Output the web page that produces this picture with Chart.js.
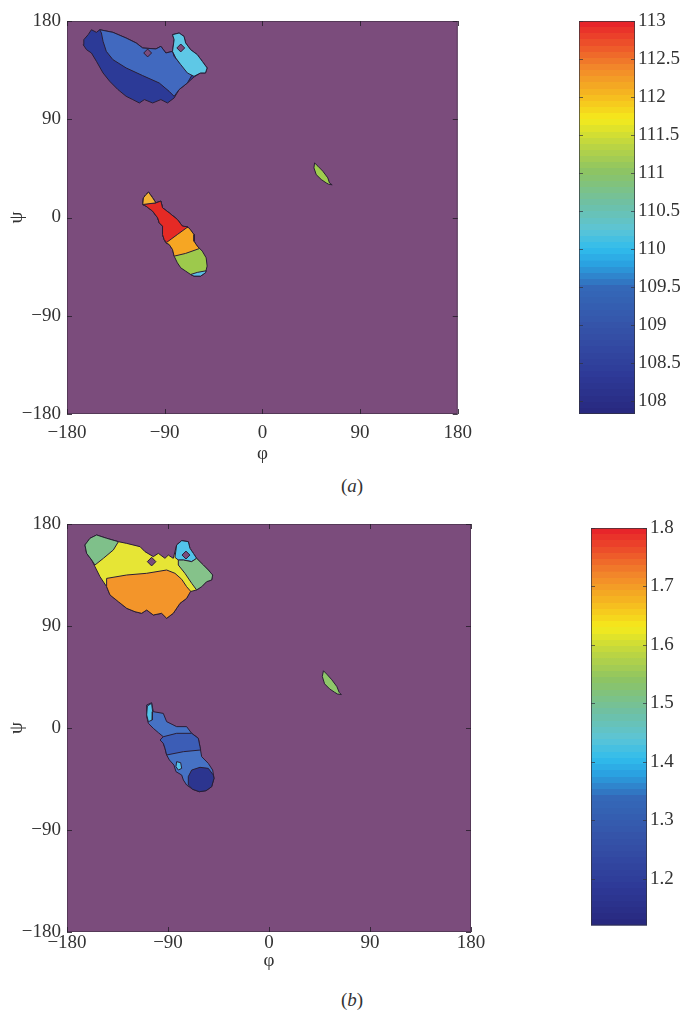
<!DOCTYPE html>
<html><head><meta charset="utf-8">
<script src="https://cdn.jsdelivr.net/npm/chart.js@4/dist/chart.umd.min.js"></script>
<style>
html,body{margin:0;padding:0;background:#fff;width:681px;height:1010px;overflow:hidden;position:relative;}
canvas{position:absolute;}
.cap{position:absolute;font-family:'Liberation Serif','DejaVu Serif',serif;font-size:19px;color:#333;transform:translate(-50%,-50%);white-space:nowrap;}
</style></head><body>
<canvas id="ma" width="480" height="465" style="left:0;top:0"></canvas>
<canvas id="ca" width="121" height="430" style="left:560px;top:0"></canvas>
<canvas id="mb" width="490" height="472" style="left:0;top:500px"></canvas>
<canvas id="cb" width="111" height="440" style="left:570px;top:500px"></canvas>
<div class="cap" style="left:352px;top:486px">(<i>a</i>)</div>
<div class="cap" style="left:352px;top:1000px">(<i>b</i>)</div>
<script>
// ---------- axes / tick data ----------
const phiTicks = [-180, -90, 0, 90, 180];
const psiTicks = [-180, -90, 0, 90, 180];
const cbarTicksA = [108, 108.5, 109, 109.5, 110, 110.5, 111, 111.5, 112, 112.5, 113];
const cbarRangeA = [107.83, 113];
const cbarTicksB = [1.2, 1.3, 1.4, 1.5, 1.6, 1.7, 1.8];
const cbarRangeB = [1.12, 1.8];

// ---------- panel (a) contour regions [phi, psi] ----------
const betaOuterA = [[-164.5,162.9],[-160.5,167.5],[-157.5,172.0],[-152.9,169.6],[-149.8,172.0],[-137.7,169.6],[-125.5,164.4],[-116.3,159.9],[-110.3,155.3],[-98.1,154.4],[-93.5,156.8],[-88.9,150.7],[-82.8,152.2],[-81.3,162.9],[-82.8,167.5],[-76.7,169.0],[-72.2,165.9],[-70.7,159.9],[-66.1,153.7],[-60.0,149.2],[-55.4,143.1],[-50.9,137.0],[-52.4,132.4],[-57.0,132.4],[-63.0,128.7],[-69.1,123.2],[-76.7,117.2],[-81.3,109.5],[-87.4,104.9],[-93.5,108.0],[-101.1,104.9],[-108.7,108.0],[-113.3,104.9],[-119.4,108.0],[-125.5,111.0],[-133.1,117.2],[-140.7,124.8],[-146.8,132.4],[-152.9,143.1],[-157.5,150.7],[-162.0,153.7],[-165.1,158.3]];
const betaBlueA = [[-149.8,172.0],[-137.7,169.6],[-125.5,164.4],[-116.3,159.9],[-110.3,155.3],[-98.1,154.4],[-93.5,156.8],[-88.9,150.7],[-82.8,152.2],[-81.3,147.6],[-73.7,138.5],[-64.6,130.9],[-69.1,123.2],[-76.7,117.2],[-81.3,111.0],[-85.9,115.6],[-95.0,123.2],[-110.3,130.0],[-125.5,137.0],[-137.7,144.6],[-143.8,152.2],[-146.8,161.4],[-148.3,169.0]];
const betaCyanA = [[-82.8,152.2],[-81.3,162.9],[-82.8,167.5],[-76.7,169.0],[-72.2,165.9],[-70.7,159.9],[-66.1,153.7],[-60.0,149.2],[-55.4,143.1],[-50.9,137.0],[-52.4,132.4],[-57.0,132.4],[-63.0,129.3],[-69.1,132.4],[-75.2,140.0],[-79.8,146.1]];
const holeA1 = [[-109.3,150.7],[-105.7,154.3],[-102.1,150.7],[-105.7,147.1]];
const holeA2 = [[-78.8,155.3],[-75.2,158.9],[-71.6,155.3],[-75.2,151.7]];
const alphaOuterA = [[-104.8,23.2],[-101.1,18.0],[-98.1,13.4],[-93.5,15.0],[-92.0,8.9],[-85.9,4.3],[-78.3,-1.8],[-73.7,-7.9],[-67.6,-9.5],[-63.0,-15.6],[-63.0,-21.7],[-60.0,-26.2],[-55.4,-30.8],[-51.8,-36.9],[-50.9,-44.5],[-52.4,-50.6],[-56.9,-53.7],[-63.0,-53.7],[-66.1,-52.2],[-70.7,-49.1],[-75.2,-46.1],[-78.3,-41.5],[-81.3,-35.4],[-82.8,-29.3],[-85.9,-24.7],[-88.9,-23.2],[-90.5,-20.1],[-92.0,-15.6],[-92.0,-7.9],[-95.0,-4.9],[-96.5,-0.3],[-101.1,5.8],[-107.2,10.4],[-110.2,11.9],[-109.6,18.0],[-107.2,21.0]];
const alphaOrangeA = [[-104.8,23.2],[-101.1,18.0],[-98.1,13.4],[-93.5,15.0],[-92.0,8.9],[-85.9,4.3],[-78.3,-1.8],[-73.7,-7.9],[-67.6,-9.5],[-63.0,-15.6],[-63.0,-21.7],[-60.0,-26.2],[-57.9,-28.4],[-70.7,-32.9],[-81.3,-35.4],[-82.8,-29.3],[-85.9,-24.7],[-88.9,-23.2],[-90.5,-20.1],[-92.0,-15.6],[-92.0,-7.9],[-95.0,-4.9],[-96.5,-0.3],[-101.1,5.8],[-107.2,10.4],[-110.2,11.9],[-109.6,18.0],[-107.2,21.0]];
const alphaRedA = [[-109.6,12.2],[-98.1,13.4],[-93.5,15.0],[-92.0,8.9],[-85.9,4.3],[-78.3,-1.8],[-73.7,-7.9],[-68.5,-8.5],[-78.3,-15.6],[-88.3,-22.9],[-90.5,-20.1],[-92.0,-15.6],[-92.0,-7.9],[-95.0,-4.9],[-96.5,-0.3],[-101.1,5.8],[-107.2,10.4],[-110.2,11.9]];
const alphaTipA = [[-110.2,11.9],[-109.6,18.0],[-107.2,21.0],[-104.8,23.2],[-101.1,18.0],[-98.1,13.4]];
const alphaCyanA = [[-66.1,-52.2],[-60.0,-50.3],[-51.8,-48.8],[-52.4,-50.6],[-56.9,-53.7],[-63.0,-53.7]];
const lensA = [[48.1,50.0],[51.2,47.0],[55.7,42.4],[60.3,36.3],[61.8,31.7],[64.3,29.9],[61.0,30.5],[58.8,31.7],[54.2,34.8],[49.6,39.3],[47.5,45.5]];

// ---------- panel (b) contour regions [phi, psi] ----------
const betaOuterB = [[-164.0,161.5],[-159.5,167.4],[-153.6,170.3],[-144.7,167.4],[-134.2,164.4],[-126.8,162.9],[-114.9,160.0],[-110.5,155.6],[-103.1,151.2],[-98.6,154.1],[-92.7,149.7],[-89.7,152.6],[-85.3,149.7],[-82.3,161.5],[-77.8,165.3],[-71.9,164.4],[-70.4,158.5],[-67.4,154.1],[-64.5,149.7],[-58.5,143.8],[-54.1,139.4],[-50.2,135.0],[-51.1,130.6],[-55.6,129.1],[-60.0,124.7],[-64.5,121.8],[-70.4,120.3],[-73.4,114.4],[-79.3,110.0],[-85.3,101.2],[-91.2,96.8],[-95.7,101.2],[-103.1,99.7],[-109.0,104.1],[-113.5,101.2],[-119.4,102.6],[-126.8,105.6],[-134.3,111.5],[-141.7,117.4],[-144.7,124.7],[-150.6,133.5],[-155.1,142.4],[-158.0,148.2],[-162.5,154.1]];
const greenLeftB = [[-164.0,161.5],[-159.5,167.4],[-153.6,170.3],[-144.7,167.4],[-134.2,164.4],[-138.7,157.1],[-147.6,149.7],[-155.1,143.8],[-158.0,148.2],[-162.5,154.1]];
const orangeB = [[-144.7,132.0],[-126.8,135.0],[-109.0,136.5],[-91.2,139.4],[-83.8,136.5],[-77.8,131.2],[-73.4,124.7],[-69.8,120.6],[-73.4,114.4],[-79.3,110.0],[-85.3,101.2],[-91.2,96.8],[-95.7,101.2],[-103.1,99.7],[-109.0,104.1],[-113.5,101.2],[-119.4,102.6],[-126.8,105.6],[-134.3,111.5],[-141.7,117.4],[-144.7,124.7]];
const cyanTopB = [[-83.8,150.6],[-82.3,161.5],[-77.8,165.3],[-71.9,164.4],[-70.4,158.5],[-67.4,154.1],[-64.5,149.7],[-68.9,146.8],[-76.3,148.2],[-80.8,148.2]];
const greenRightB = [[-80.8,148.2],[-76.3,148.2],[-68.9,146.8],[-64.5,149.7],[-58.5,143.8],[-54.1,139.4],[-50.2,135.0],[-51.1,130.6],[-55.6,129.1],[-60.0,124.7],[-64.5,121.8],[-68.9,127.7],[-74.9,136.5],[-80.8,143.8]];
const holeB1 = [[-108.4,146.8],[-104.6,150.6],[-100.8,146.8],[-104.6,143.0]];
const holeB2 = [[-77.5,152.6],[-74.0,156.1],[-70.5,152.6],[-74.0,149.1]];
const alphaOuterB = [[-109.0,20.3],[-104.6,22.3],[-103.1,14.4],[-94.2,12.9],[-91.2,5.6],[-82.3,1.2],[-73.4,1.2],[-68.9,-4.7],[-63.0,-9.1],[-61.5,-16.5],[-60.0,-25.3],[-54.1,-31.2],[-50.2,-37.1],[-49.0,-44.4],[-51.1,-51.8],[-56.1,-55.3],[-62.1,-56.2],[-68.0,-54.1],[-73.4,-50.3],[-76.3,-45.9],[-77.8,-41.5],[-82.9,-38.5],[-84.7,-32.7],[-88.8,-28.2],[-91.2,-23.8],[-92.7,-17.9],[-94.2,-13.5],[-97.1,-10.6],[-94.2,-7.7],[-98.6,-4.1],[-103.1,-0.3],[-107.5,4.1],[-109.0,10.0]];
const bandB = [[-94.2,-7.7],[-82.3,-4.7],[-68.9,-4.7],[-63.0,-9.1],[-61.5,-16.5],[-60.9,-19.4],[-76.3,-20.9],[-91.2,-23.8],[-92.7,-17.9],[-94.2,-13.5],[-97.1,-10.6]];
const navyB = [[-68.9,-37.1],[-61.5,-34.7],[-54.1,-35.6],[-49.6,-41.5],[-49.0,-44.4],[-51.1,-51.8],[-56.1,-55.3],[-62.1,-56.2],[-68.0,-54.1],[-71.9,-50.3],[-71.9,-42.9]];
const cyanPatchB = [[-82.3,-29.7],[-78.7,-30.6],[-77.8,-35.6],[-80.8,-37.1],[-82.9,-34.1]];
const cyanSliverB = [[-108.4,19.4],[-104.6,21.8],[-103.7,14.4],[-104.0,7.1],[-107.5,5.6],[-109.0,11.5]];
const lensB = [[48.5,50.5],[51.5,47.5],[56.0,42.5],[60.5,36.5],[62.5,31.5],[64.5,29.5],[61.0,30.0],[58.5,31.5],[54.0,34.5],[49.5,39.0],[47.5,45.5]];

// ---------- styling ----------
const SERIF = "'Liberation Serif','DejaVu Serif',serif";
const FS = 19;
const PURPLE = '#7b4c7c';
const EDGE = '#2a1e36';
const TXT = '#333';

const layersA = [
  {poly: betaOuterA, color: '#2c3a97'},
  {poly: betaBlueA, color: '#4169bf'},
  {poly: betaCyanA, color: '#5ec8e6'},
  {poly: holeA1, color: PURPLE},
  {poly: holeA2, color: PURPLE},
  {poly: alphaOuterA, color: '#9dc94c'},
  {poly: alphaOrangeA, color: '#f6a623'},
  {poly: alphaRedA, color: '#e52a25'},
  {poly: alphaTipA, color: '#f3b234'},
  {poly: alphaCyanA, color: '#5bc0e6'},
  {poly: lensA, color: '#9fce4e'}
];
const layersB = [
  {poly: betaOuterB, color: '#e6e535'},
  {poly: greenLeftB, color: '#7fc08a'},
  {poly: orangeB, color: '#f3952a'},
  {poly: cyanTopB, color: '#52c3ea'},
  {poly: greenRightB, color: '#85c28a'},
  {poly: holeB1, color: PURPLE},
  {poly: holeB2, color: PURPLE},
  {poly: alphaOuterB, color: '#4672c4'},
  {poly: bandB, color: '#3c5db6'},
  {poly: navyB, color: '#2c358f'},
  {poly: cyanPatchB, color: '#55c4ea'},
  {poly: cyanSliverB, color: '#55c4ea'},
  {poly: lensB, color: '#8fc86a'}
];

const fmt = v => (v < 0 ? '\u2212' + Math.abs(v) : String(v));
function polyData(arr) {
  const d = arr.map(p => ({x: p[0], y: p[1]}));
  d.push({x: arr[0][0], y: arr[0][1]});
  return d;
}

const bgPlugin = {
  id: 'bg',
  beforeDatasetsDraw(chart) {
    const {ctx, chartArea: a} = chart;
    ctx.save(); ctx.fillStyle = PURPLE;
    ctx.fillRect(a.left, a.top, a.right - a.left, a.bottom - a.top);
    ctx.restore();
  }
};
const frameTicks = {
  id: 'frameTicks',
  afterDatasetsDraw(chart) {
    const {ctx, chartArea: a, scales} = chart;
    ctx.save();
    ctx.strokeStyle = 'rgba(60,45,65,0.6)'; ctx.lineWidth = 1;
    ctx.strokeRect(a.left + 0.5, a.top + 0.5, a.right - a.left - 1, a.bottom - a.top - 1);
    ctx.strokeStyle = 'rgba(40,30,45,0.85)';
    const L = 5;
    ctx.beginPath();
    scales.x.ticks.forEach(t => {
      const x = Math.round(scales.x.getPixelForValue(t.value)) + 0.5;
      ctx.moveTo(x, a.bottom); ctx.lineTo(x, a.bottom - L);
      ctx.moveTo(x, a.top); ctx.lineTo(x, a.top + L);
    });
    scales.y.ticks.forEach(t => {
      const y = Math.round(scales.y.getPixelForValue(t.value)) + 0.5;
      ctx.moveTo(a.left, y); ctx.lineTo(a.left + L, y);
      ctx.moveTo(a.right, y); ctx.lineTo(a.right - L, y);
    });
    ctx.stroke();
    ctx.restore();
  }
};

function makeMain(id, layers, o) {
  const datasets = layers.map((L, i) => ({
    data: polyData(L.poly),
    showLine: true, fill: 'shape',
    backgroundColor: L.color, borderColor: EDGE, borderWidth: 1,
    pointRadius: 0, pointHoverRadius: 0, tension: 0,
    order: layers.length - i
  }));
  new Chart(document.getElementById(id), {
    type: 'scatter',
    data: {datasets},
    options: {
      responsive: false, animation: false, events: [],
      layout: {padding: {top: o.padTop, right: o.padRight, left: 0, bottom: 0}},
      plugins: {legend: {display: false}, tooltip: {enabled: false}},
      scales: {
        x: {
          type: 'linear', min: -180, max: 180,
          afterBuildTicks: s => { s.ticks = phiTicks.map(v => ({value: v})); },
          grid: {display: false, drawTicks: false}, border: {display: false},
          ticks: {padding: o.xPad, color: TXT, font: {family: SERIF, size: FS}, callback: fmt, maxRotation: 0, autoSkip: false},
          title: {display: true, text: 'φ', color: TXT, font: {family: SERIF, size: FS}, padding: {top: 0, bottom: 0}},
          afterFit: s => { s.height = o.xH; }
        },
        y: {
          type: 'linear', min: -180, max: 180,
          afterBuildTicks: s => { s.ticks = psiTicks.map(v => ({value: v})); },
          grid: {display: false, drawTicks: false}, border: {display: false},
          ticks: {padding: 6, color: TXT, font: {family: SERIF, size: FS}, callback: fmt, autoSkip: false},
          title: {display: true, text: 'ψ', color: TXT, font: {family: SERIF, size: FS}, padding: {top: 6, bottom: 0}},
          afterFit: s => { s.width = 67; }
        }
      }
    },
    plugins: [bgPlugin, frameTicks]
  });
}

// jet-like colormap as printed in the figure
const cmapStops = [
  [0.00, [39, 40, 126]], [0.10, [46, 58, 152]], [0.22, [53, 83, 168]], [0.32, [52, 104, 184]],
  [0.38, [42, 160, 224]], [0.42, [48, 188, 236]], [0.47, [92, 196, 214]], [0.54, [112, 192, 160]],
  [0.62, [142, 196, 98]], [0.70, [200, 218, 58]], [0.75, [245, 234, 28]], [0.80, [246, 194, 30]],
  [0.88, [242, 136, 42]], [0.95, [236, 74, 42]], [1.00, [230, 30, 42]]
];
function cmap(f) {
  for (let i = 1; i < cmapStops.length; i++) {
    const [f1, c1] = cmapStops[i];
    const [f0, c0] = cmapStops[i - 1];
    if (f <= f1) {
      const t = (f - f0) / (f1 - f0);
      return 'rgb(' + c0.map((c, k) => Math.round(c + (c1[k] - c) * t)).join(',') + ')';
    }
  }
  return 'rgb(230,30,42)';
}
function barGradient(context) {
  const {ctx, chartArea: a} = context.chart;
  if (!a) return '#888';
  const g = ctx.createLinearGradient(0, a.bottom, 0, a.top);
  const N = 64;
  for (let k = 0; k < N; k++) {
    const c = cmap((k + 0.5) / N);
    g.addColorStop(k / N, c);
    g.addColorStop(Math.min(1, (k + 1) / N - 0.0001), c);
  }
  return g;
}
const barTicks = {
  id: 'barTicks',
  afterDatasetsDraw(chart) {
    const {ctx, chartArea: a, scales} = chart;
    ctx.save();
    ctx.strokeStyle = 'rgba(50,50,60,0.7)'; ctx.lineWidth = 1;
    ctx.strokeRect(a.left + 0.5, a.top + 0.5, a.right - a.left - 1, a.bottom - a.top - 1);
    ctx.beginPath();
    scales.y.ticks.forEach(t => {
      const y = Math.round(scales.y.getPixelForValue(t.value)) + 0.5;
      ctx.moveTo(a.left, y); ctx.lineTo(a.left + 4, y);
      ctx.moveTo(a.right, y); ctx.lineTo(a.right - 4, y);
    });
    ctx.stroke();
    ctx.restore();
  }
};
function makeBar(id, range, ticks, o) {
  new Chart(document.getElementById(id), {
    type: 'bar',
    data: {labels: [''], datasets: [{data: [[range[0], range[1]]], backgroundColor: barGradient, borderWidth: 0, barPercentage: 1, categoryPercentage: 1}]},
    options: {
      responsive: false, animation: false, events: [],
      layout: {padding: {left: o.padL, top: o.padT, bottom: o.padB, right: 0}},
      plugins: {legend: {display: false}, tooltip: {enabled: false}},
      scales: {
        x: {display: false},
        y: {
          position: 'right', min: range[0], max: range[1],
          afterBuildTicks: s => { s.ticks = ticks.map(v => ({value: v})); },
          grid: {display: false, drawTicks: false}, border: {display: false},
          ticks: {padding: 3, color: TXT, font: {family: SERIF, size: FS}, callback: v => String(v), autoSkip: false},
          afterFit: s => { s.width = o.axW; }
        }
      }
    },
    plugins: [barTicks]
  });
}

makeMain('ma', layersA, {padTop: 21, padRight: 19, xH: 51, xPad: 8});
makeBar('ca', cbarRangeA, cbarTicksA, {padL: 19, padT: 21, padB: 16, axW: 46});
makeMain('mb', layersB, {padTop: 24, padRight: 19, xH: 40, xPad: 0});
makeBar('cb', cbarRangeB, cbarTicksB, {padL: 21, padT: 28, padB: 13, axW: 34});
</script>
</body></html>
